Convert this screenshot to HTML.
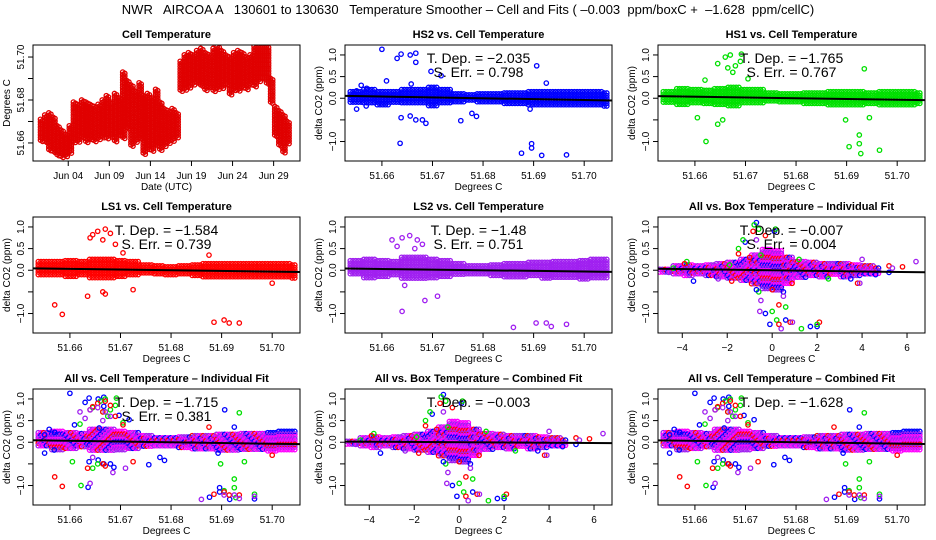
<!DOCTYPE html>
<html><head><meta charset="utf-8">
<style>
html,body{margin:0;padding:0;background:#fff;}
svg{display:block;font-family:"Liberation Sans",sans-serif;}
</style></head>
<body>
<svg id="chart" width="936" height="540" viewBox="0 0 936 540" xmlns="http://www.w3.org/2000/svg">
<rect x="0" y="0" width="936" height="540" fill="#fff"/>
<text x="468" y="14" font-size="13" text-anchor="middle" xml:space="preserve">NWR   AIRCOA A   130601 to 130630   Temperature Smoother – Cell and Fits ( –0.003  ppm/boxC +  –1.628  ppm/cellC)</text>
</svg>
<script>
// ---- cell temperature time series (half-day min/max) ----
const tsDays=[0.75,1.25,1.75,2.25,2.75,3.25,3.75,4.25,4.75,5.25,5.75,6.25,6.75,7.25,7.75,8.25,8.75,9.25,9.75,10.25,10.75,11.25,11.75,12.25,12.75,13.25,13.75,14.25,14.75,15.25,15.75,16.25,16.75,17.25,17.75,18.25,18.75,19.25,19.75,20.25,20.75,21.25,21.75,22.25,22.75,23.25,23.75,24.25,24.75,25.25,25.75,26.25,26.75,27.25,27.75,28.25,28.75,29.25,29.75,30.25,30.75];
const tsLo=[51.661,51.660,51.657,51.656,51.654,51.653,51.654,51.655,51.660,51.661,51.662,51.660,51.662,51.661,51.662,51.663,51.662,51.663,51.661,51.664,51.662,51.667,51.658,51.660,51.662,51.655,51.657,51.656,51.659,51.657,51.659,51.660,51.661,51.662,51.684,51.685,51.686,51.687,51.688,51.686,51.685,51.686,51.684,51.685,51.686,51.687,51.683,51.685,51.684,51.686,51.685,51.687,51.686,51.689,51.690,51.688,51.679,51.663,51.659,51.656,51.660];
const tsHi=[51.671,51.673,51.674,51.672,51.668,51.666,51.664,51.668,51.679,51.678,51.680,51.679,51.678,51.677,51.678,51.680,51.682,51.679,51.683,51.681,51.693,51.689,51.687,51.684,51.688,51.682,51.683,51.681,51.685,51.679,51.676,51.675,51.676,51.674,51.698,51.701,51.702,51.701,51.703,51.704,51.702,51.701,51.704,51.705,51.703,51.701,51.700,51.702,51.703,51.702,51.700,51.701,51.705,51.705,51.705,51.705,51.690,51.677,51.675,51.673,51.670];
const tsTickDays=[4,9,14,19,24,29];
const tsTickLabels=["Jun 04","Jun 09","Jun 14","Jun 19","Jun 24","Jun 29"];
const tsYTicks=[51.66,51.67,51.68,51.69,51.70];
const tsYLabels=["51.66","","51.68","","51.70"];

// ---- cell temperature bins ----
const cellBins=[51.655,51.6575,51.66,51.6625,51.665,51.6675,51.67,51.6725,51.675,51.6775,51.68,51.6825,51.685,51.6875,51.69,51.6925,51.695,51.6975,51.70,51.7025,51.7045];
const hs2Lo=[-0.1,-0.12,-0.15,-0.12,-0.15,-0.15,-0.18,-0.15,-0.1,-0.08,-0.1,-0.12,-0.15,-0.15,-0.15,-0.15,-0.18,-0.18,-0.2,-0.2,-0.22];
const hs2Hi=[0.15,0.2,0.15,0.15,0.2,0.2,0.25,0.2,0.1,0.08,0.1,0.1,0.12,0.12,0.15,0.15,0.15,0.15,0.15,0.15,0.12];
const hs1Lo=[-0.12,-0.15,-0.15,-0.12,-0.15,-0.18,-0.15,-0.15,-0.1,-0.1,-0.1,-0.12,-0.12,-0.15,-0.15,-0.15,-0.15,-0.15,-0.15,-0.15,-0.15];
const hs1Hi=[0.15,0.22,0.2,0.18,0.22,0.25,0.2,0.2,0.12,0.1,0.1,0.12,0.12,0.15,0.15,0.15,0.12,0.15,0.15,0.15,0.12];
const ls1Lo=[-0.12,-0.15,-0.15,-0.15,-0.18,-0.2,-0.18,-0.15,-0.1,-0.08,-0.1,-0.12,-0.15,-0.15,-0.18,-0.15,-0.18,-0.18,-0.2,-0.2,-0.2];
const ls1Hi=[0.2,0.2,0.22,0.2,0.25,0.25,0.22,0.2,0.12,0.1,0.08,0.1,0.12,0.15,0.15,0.15,0.15,0.15,0.15,0.15,0.12];
const ls2Lo=[-0.12,-0.18,-0.18,-0.15,-0.2,-0.2,-0.2,-0.18,-0.12,-0.1,-0.1,-0.12,-0.15,-0.15,-0.15,-0.18,-0.18,-0.2,-0.2,-0.2,-0.22];
const ls2Hi=[0.22,0.25,0.22,0.2,0.3,0.3,0.25,0.22,0.15,0.1,0.1,0.12,0.15,0.15,0.18,0.18,0.2,0.2,0.22,0.25,0.25];
const hs2OX=[51.66,51.663,51.6638,51.6656,51.6667,51.6667,51.6609,51.6697,51.6717,51.6906,51.6925,51.6638,51.6636,51.6656,51.6667,51.6687,51.668,51.6756,51.6778,51.6787,51.6876,51.6896,51.6896,51.6916,51.6965,51.655,51.655,51.6569,51.6559,51.657,51.6893,51.6658];
const hs2OY=[1.13,0.92,1.02,1.0,1.04,0.83,0.4,0.62,0.52,0.75,0.35,-0.45,-1.04,-0.41,-0.5,-0.58,-0.5,-0.52,-0.35,-0.42,-1.27,-1.05,-1.15,-1.32,-1.31,0.17,-0.25,-0.18,0.3,0.23,-0.25,0.33];
const hs1OX=[51.6645,51.666,51.667,51.668,51.669,51.6665,51.6692,51.6675,51.662,51.6645,51.6655,51.6622,51.6925,51.6928,51.6905,51.6898,51.6945,51.6925,51.6935,51.6965,51.6705,51.6605];
const hs1OY=[0.8,0.95,1.0,0.75,0.85,0.7,1.02,0.6,0.42,-0.6,-0.5,-1.0,-1.05,-1.28,-1.12,-0.5,-0.45,-0.85,0.68,-1.2,0.45,-0.45];
const ls1OX=[51.664,51.6655,51.667,51.668,51.669,51.6665,51.6875,51.6635,51.667,51.657,51.6585,51.6665,51.6905,51.6915,51.6935,51.6885,51.70,51.6725,51.6705,51.6645];
const ls1OY=[0.75,0.9,0.95,0.85,0.6,0.7,0.35,-0.6,-0.55,-0.8,-1.02,-0.5,-1.15,-1.22,-1.22,-1.2,-0.3,-0.45,0.4,0.82];
const ls2OX=[51.663,51.664,51.6655,51.667,51.668,51.6665,51.6645,51.664,51.6685,51.686,51.6905,51.6925,51.6935,51.6965,51.671,51.662];
const ls2OY=[0.55,0.75,0.8,0.7,0.6,0.5,-0.35,-0.95,-0.7,-1.32,-1.22,-1.22,-1.3,-1.25,-0.6,0.7];
const cellSlopes=[-2.035,-1.765,-1.584,-1.48];
const cellSErr=[0.798,0.767,0.739,0.751];
const cellXTicks=[51.66,51.67,51.68,51.69,51.70];
const cellXLabels=["51.66","51.67","51.68","51.69","51.70"];
const dYTicks=[-1.0,-0.5,0.0,0.5,1.0];
const dYLabels=["\u22121.0","","0.0","0.5","1.0"];

// ---- box temperature ----
const boxBins=[-4.75,-4.25,-3.75,-3.25,-2.75,-2.25,-1.75,-1.25,-0.75,-0.25,0.25,0.75,1.25,1.75,2.25,2.75,3.25,3.75,4.25,4.75];
const boxLo=[-0.05,-0.12,-0.12,-0.1,-0.12,-0.15,-0.2,-0.25,-0.35,-0.45,-0.45,-0.3,-0.2,-0.15,-0.15,-0.12,-0.15,-0.12,-0.1,-0.08];
const boxHi=[0.02,0.1,0.12,0.1,0.12,0.15,0.18,0.25,0.35,0.48,0.45,0.3,0.2,0.18,0.15,0.15,0.15,0.12,0.1,0.05];
const boxOX=[-0.7,-0.8,-0.85,-0.6,0.1,0.15,-0.3,-1.2,-1.3,-1.5,-0.7,-0.5,-0.6,-0.5,-0.55,-0.3,-0.1,0.0,0.2,0.3,0.4,0.3,0.6,0.6,0.8,0.9,1.3,1.7,2.0,2.1,2.0,0.5,0.0,-0.7,0.5,6.4,5.8,5.2,5.35,5.2,4.6,3.8,3.9,3.5,-4.4,-4.6,-3.8,-3.5,-1.9,-1.5,-1.0,4.0,2.5,1.2,-1.8,-2.4,-3.9];
const boxOY=[1.1,1.05,0.9,0.95,0.9,0.95,0.8,0.65,0.7,0.5,0.7,0.35,-0.5,-0.7,-0.95,-1.0,-1.25,-0.95,-1.15,-1.25,-1.35,-0.8,-0.85,-1.15,-1.2,-1.2,-1.35,-1.3,-1.3,-1.2,-1.25,-0.5,-0.45,-0.45,-0.6,0.2,0.08,0.1,0.05,-0.05,-0.1,-0.3,-0.3,-0.2,0.05,-0.05,0.2,-0.25,0.12,0.38,0.3,0.25,-0.2,0.25,-0.25,-0.2,0.15];
const boxOC=[0,1,2,1,0,1,2,0,1,1,3,1,1,3,3,0,0,1,1,2,3,2,1,0,2,3,1,0,0,2,1,0,2,0,3,3,2,2,3,0,0,2,3,0,1,3,1,0,1,2,2,3,1,1,2,3,2];
const boxXTicks=[-4,-2,0,2,4,6];
const boxXLabels=["\u22124","\u22122","0","2","4","6"];
const fitSlopes={boxInd:-0.007,boxErr:0.004,cellInd:-1.715,cellIndErr:0.381,boxComb:-0.003,cellComb:-1.628};

const COLORS=["#0000ff","#00e000","#ff0000","#a020f0"];
const NS="http://www.w3.org/2000/svg";
const svg=document.getElementById('chart');
function mk(tag,attrs,parent){const e=document.createElementNS(NS,tag);for(const k in attrs)e.setAttribute(k,attrs[k]);(parent||svg).appendChild(e);return e;}

const COLX=[33,345,658], ROWY=[45,217,389], PW=267, PH=116;
function fmt(v){return String(v).replace('-','\u2212');}

function frame(g,px,py,title,xTicks,xLabels,xs,yTicks,yLabels,ys,xTitle,yTitle){
  const r=mk('rect',{x:px,y:py,width:PW,height:PH,fill:'none',stroke:'#000','stroke-width':1},g);
  
  
  const t=mk('text',{x:px+PW/2,y:py-7,'font-size':11,'font-weight':'bold','text-anchor':'middle'},g);
  t.textContent=title;
  
  
  xTicks.forEach((v,i)=>{const x=xs(v);
    const l=mk('line',{x1:x,x2:x,y1:py+PH,y2:py+PH+5,stroke:'#000'},g);
    
    
    const tx=mk('text',{x:x,y:py+PH+18,'font-size':10,'text-anchor':'middle'},g);tx.textContent=xLabels[i];
    
    });
  yTicks.forEach((v,i)=>{const y=ys(v);
    const l=mk('line',{x1:px-5,x2:px,y1:y,y2:y,stroke:'#000'},g);
    
    
    if(yLabels[i]){const tx=mk('text',{x:0,y:0,'font-size':10,'text-anchor':'middle',transform:`translate(${px-9},${y}) rotate(-90)`},g);tx.textContent=yLabels[i];
    
    }});
  const xt=mk('text',{x:px+PW/2,y:py+PH+29,'font-size':10,'text-anchor':'middle'},g);xt.textContent=xTitle;
  
  
  const yt=mk('text',{x:0,y:0,'font-size':10,'text-anchor':'middle',transform:`translate(${px-23},${py+PH/2}) rotate(-90)`},g);yt.textContent=yTitle;
  
  
}
function dot(g,x,y,c){const e=mk('circle',{cx:x.toFixed(1),cy:y.toFixed(1),r:2.2,fill:'none',stroke:c,'stroke-width':1.3},g);
  
  }

// ---- panel 1: time series ----
(function(){
  const px=COLX[0],py=ROWY[0];
  const g=mk('g',{});
  
  
  const xs=d=>px+(d+0.29)/(32.5)*PW;
  const ys=v=>py+(51.7056-v)/(51.7056-51.6516)*PH;
  const cl=mk('clipPath',{id:'c0'},g);mk('rect',{x:px,y:py,width:PW,height:PH},cl);
  const dg=mk('g',{'clip-path':'url(#c0)'},g);
  tsDays.forEach((d,i)=>{const x=xs(d);for(let y=ys(tsHi[i]);y<=ys(tsLo[i])+0.1;y+=2.6){dot(dg,x-1,y,'#e00000');dot(dg,x+1.1,y+1.3,'#e00000');}});
  frame(g,px,py,'Cell Temperature',tsTickDays,tsTickLabels,xs,tsYTicks,tsYLabels,ys,'Date (UTC)','Degrees C');
})();

function scatterPanel(col,row,title,band,bandCols,xs,xTicks,xLabels,slope,center,ann1,ann2,outs){
  const px=COLX[col],py=ROWY[row];
  const g=mk('g',{});
  
  
  const ys=v=>py+(1.23-v)/(2.68)*PH;
  const id='c'+col+row;
  const cl=mk('clipPath',{id:id},g);mk('rect',{x:px,y:py,width:PW,height:PH},cl);
  const dg=mk('g',{'clip-path':`url(#${id})`},g);
  const bins=band.bins, step=bins[1]-bins[0];
  const xa=xs(bins[0]-step/2), xb=xs(bins[bins.length-1]);
  let k=0;
  for(let x=xa;x<=xb;x+=2.7){
    let bi=0,bd=1e9;bins.forEach((b,j)=>{const d=Math.abs(xs(b)-x);if(d<bd){bd=d;bi=j;}});
    for(let y=ys(band.hi[bi]);y<=ys(band.lo[bi])+0.1;y+=2.6){dot(dg,x,y,bandCols[k%bandCols.length]);k++;}
  }
  outs.forEach(o=>o.x.forEach((xv,i)=>dot(dg,xs(xv),ys(o.y[i]),o.c?COLORS[o.c[i]]:o.color)));
  const x0=xs.dom[0],x1=xs.dom[1];
  const fl=mk('line',{x1:xs(x0),y1:ys(slope*(x0-center)),x2:xs(x1),y2:ys(slope*(x1-center)),stroke:'#000','stroke-width':2},dg);
  
  
  frame(g,px,py,title,xTicks,xLabels,xs,dYTicks,dYLabels,ys,'Degrees C','delta CO2 (ppm)');
  [[ann1,py+18],[ann2,py+32]].forEach(([s,y],i)=>{if(!s)return;
    const t=mk('text',{x:px+PW/2,y:y,'font-size':14,'text-anchor':'middle','xml:space':'preserve'},g);t.textContent=s;
    
    });
}
function cs(col){const d=[51.6527,51.7055],p=COLX[col];const f=v=>p+(v-d[0])/(d[1]-d[0])*PW;f.dom=d;return f;}
function bs(col){const d=[-5.08,6.8],p=COLX[col];const f=v=>p+(v-d[0])/(d[1]-d[0])*PW;f.dom=d;return f;}

const cellSeries=[{lo:hs2Lo,hi:hs2Hi,x:hs2OX,y:hs2OY},{lo:hs1Lo,hi:hs1Hi,x:hs1OX,y:hs1OY},{lo:ls1Lo,hi:ls1Hi,x:ls1OX,y:ls1OY},{lo:ls2Lo,hi:ls2Hi,x:ls2OX,y:ls2OY}];
const names=['HS2','HS1','LS1','LS2'];
const spots=[[1,0],[2,0],[0,1],[1,1]];
cellSeries.forEach((s,i)=>{
  scatterPanel(spots[i][0],spots[i][1],names[i]+' vs. Cell Temperature',{bins:cellBins,lo:s.lo,hi:s.hi},[COLORS[i]],cs(spots[i][0]),cellXTicks,cellXLabels,cellSlopes[i],51.68,
   'T. Dep. =  '+fmt(cellSlopes[i]),'S. Err. =  '+cellSErr[i],[{x:s.x,y:s.y,color:COLORS[i]}]);
});
const allLo=cellBins.map((b,j)=>Math.min(...cellSeries.map(s=>s.lo[j])));
const allHi=cellBins.map((b,j)=>Math.max(...cellSeries.map(s=>s.hi[j])));
const cellOuts=cellSeries.map((s,i)=>({x:s.x,y:s.y,color:COLORS[i]}));
const mix=['#a020f0','#ff00ff','#a020f0','#ff00ff','#ff0000','#a020f0','#ff00ff','#0000ff'];
scatterPanel(2,1,'All vs. Box Temperature \u2013 Individual Fit',{bins:boxBins,lo:boxLo,hi:boxHi},mix,bs(2),boxXTicks,boxXLabels,fitSlopes.boxInd,0,'T. Dep. =  '+fmt(fitSlopes.boxInd),'S. Err. =  '+fitSlopes.boxErr,[{x:boxOX,y:boxOY,c:boxOC}]);
scatterPanel(0,2,'All vs. Cell Temperature \u2013 Individual Fit',{bins:cellBins,lo:allLo,hi:allHi},mix,cs(0),cellXTicks,cellXLabels,fitSlopes.cellInd,51.68,'T. Dep. =  '+fmt(fitSlopes.cellInd),'S. Err. =  '+fitSlopes.cellIndErr,cellOuts);
scatterPanel(1,2,'All vs. Box Temperature \u2013 Combined Fit',{bins:boxBins,lo:boxLo,hi:boxHi},mix,bs(1),boxXTicks,boxXLabels,fitSlopes.boxComb,0,'T. Dep. =  '+fmt(fitSlopes.boxComb),'',[{x:boxOX,y:boxOY,c:boxOC}]);
scatterPanel(2,2,'All vs. Cell Temperature \u2013 Combined Fit',{bins:cellBins,lo:allLo,hi:allHi},mix,cs(2),cellXTicks,cellXLabels,fitSlopes.cellComb,51.68,'T. Dep. =  '+fmt(fitSlopes.cellComb),'',cellOuts);
</script>
</body></html>
